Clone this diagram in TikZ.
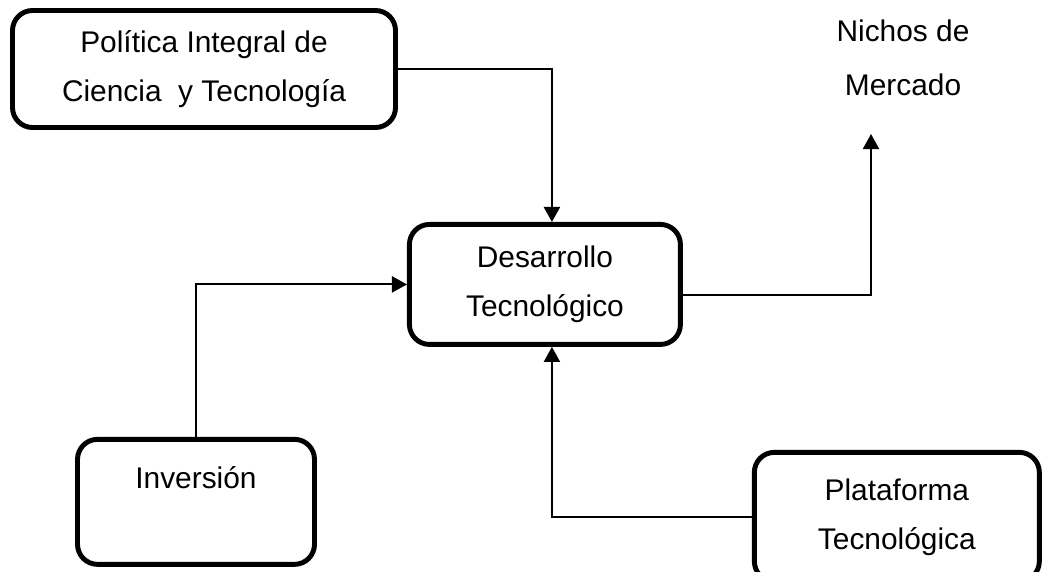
\documentclass[tikz,border=0pt]{standalone}
\usepackage{fontspec}
\setmainfont{Liberation Sans}
\usetikzlibrary{arrows.meta, positioning, calc}

\begin{document}
\begin{tikzpicture}[node distance=1.8cm]
        \tikzstyle{block} = [rectangle, rounded corners=0.4cm, line width=2.8pt, text centered, align=center, draw=black, fill=white, font=\fontsize{17}{27.8}\selectfont]
        \tikzstyle{arrow} = [line width=1.2pt, -{Triangle[length=0.3cm, width=0.32cm]}]

        \useasboundingbox (0,0) rectangle (20.94,-11.42);

        \node (politica) [block, minimum width=7.66cm, minimum height=2.34cm] at (4.08,-1.38) {Política Integral de\\Ciencia~~y Tecnología};
        \node (desarrollo) [block, minimum width=5.42cm, minimum height=2.4cm, below right=1.84cm and 0.18cm of politica] {Desarrollo\\Tecnológico};
        \node (inversion) [block, minimum width=4.74cm, minimum height=2.5cm, below left=1.8cm and 1.8cm of desarrollo] {Inversión\\ \mbox{}};
        \node (plataforma) [block, minimum width=5.7cm, minimum height=2.58cm, below right=2.06cm and 1.38cm of desarrollo] {Plataforma\\Tecnológica};
        \node (nichos) [align=center, font=\fontsize{17}{31}\selectfont] at (18.06,-1.16) {Nichos de\\Mercado};
        \coordinate (tip) at (17.42,-2.68);

        \draw [arrow] (politica.east) -| ([xshift=0.14cm]desarrollo.north);
        \draw [arrow] (inversion.north) |- (desarrollo.west);
        \draw [arrow] (plataforma.west) -| ([xshift=0.14cm]desarrollo.south);
        \draw [arrow] ([yshift=-0.21cm]desarrollo.east) -| (tip);
\end{tikzpicture}
\end{document}
